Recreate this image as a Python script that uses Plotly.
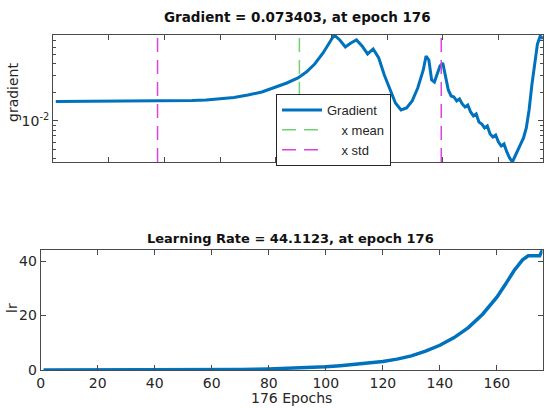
import numpy as np
import plotly.graph_objects as go

# ---------------- data ----------------
n_epochs = 176

grad_epoch = [1, 20, 40, 50, 55, 60, 65, 70, 75, 80, 84, 88, 91, 94, 97, 99,
              101, 103, 105, 107, 109, 111, 113, 115, 117, 119, 121, 123, 125, 127, 129, 131, 133,
              134, 135, 136, 137, 138, 139, 140, 141, 142, 143, 144, 145, 146, 147, 148, 149,
              150, 151, 152, 153, 154, 155, 156, 157, 158, 159, 160, 161, 162, 163, 164, 165,
              166, 167, 168, 169, 170, 171, 172, 173, 174, 175, 176]
grad_value = [0.01604, 0.01612, 0.01624, 0.01644, 0.01664, 0.01704, 0.01767, 0.01878, 0.02020, 0.02280,
              0.02512, 0.02836, 0.03280, 0.03981, 0.05197, 0.06464,
              0.08039, 0.07124, 0.06010, 0.06623, 0.07124, 0.06158, 0.05074, 0.05727, 0.04605, 0.03050,
              0.02120, 0.01547, 0.01306, 0.01370, 0.01624, 0.02225, 0.03442,
              0.04834, 0.04387, 0.02702, 0.02573, 0.03201, 0.03793, 0.04078, 0.02836, 0.02120, 0.01833,
              0.01789, 0.01624, 0.01704, 0.01510, 0.01404, 0.01474,
              0.01244, 0.01129, 0.01185, 0.00976, 0.00930, 0.00844, 0.00886, 0.00730, 0.00679, 0.00712,
              0.00601, 0.00546, 0.00573, 0.00472, 0.00408, 0.00370,
              0.00428, 0.00495, 0.00559, 0.00662, 0.00844, 0.01306, 0.02393, 0.04179, 0.06464, 0.07848,
              0.073403]

lr_epoch = [1, 10, 20, 30, 40, 50, 60, 70, 80, 90, 100, 105, 110, 115, 120, 125, 130, 135,
            140, 145, 150, 155, 160, 163, 166, 169, 171, 175, 176]
lr_value = [0.004, 0.007, 0.012, 0.02, 0.04, 0.07, 0.12, 0.22, 0.4, 0.7, 1.2, 1.6, 2.0, 2.5,
            3.1, 4.0, 5.2, 6.9, 9.1, 11.9, 15.6, 20.5, 26.8, 31.5, 36.5, 40.5, 42.0, 42.0, 44.1123]

x_ticks = [0, 20, 40, 60, 80, 100, 120, 140, 160]
lr_ticks = [0, 20, 40]
grad_major_ticks = [0.01]
grad_major_text = ["10<sup>-2</sup>"]
grad_minor_ticks = [0.004, 0.005, 0.006, 0.007, 0.008, 0.009,
                    0.02, 0.03, 0.04, 0.05, 0.06, 0.07, 0.08]

title_top = "Gradient = 0.073403, at epoch 176"
title_bottom = "Learning Rate = 44.1123, at epoch 176"

# ---------------- derived ----------------
epochs_all = np.arange(1, n_epochs + 1)
x_mean = float(epochs_all.mean())
x_std = float(epochs_all.std(ddof=1))
gmin, gmax = min(grad_value), max(grad_value)

W, H = 547, 408
def px(x):
    return x / W
def py(y):
    return 1 - y / H

BLUE = "#0072BD"
AX = "#4a4a4a"
TXT = "#262626"
FONT = "DejaVu Sans"
NB = "\u00a0" * 4

fig = go.Figure()
fig.add_trace(go.Scatter(x=grad_epoch, y=grad_value, mode="lines", name="Gradient",
                         line=dict(color=BLUE, width=3), xaxis="x", yaxis="y"))
fig.add_trace(go.Scatter(x=[x_mean, x_mean], y=[gmin, gmax], mode="lines",
                         name=NB + "x mean",
                         line=dict(color="#6fd36f", width=1.5, dash="14px,8px"),
                         xaxis="x", yaxis="y"))
fig.add_trace(go.Scatter(x=[x_mean - x_std, x_mean - x_std, None, x_mean + x_std, x_mean + x_std],
                         y=[gmin, gmax, None, gmin, gmax], mode="lines",
                         name=NB + "x std",
                         line=dict(color="#dd44dd", width=1.5, dash="14px,8px"),
                         xaxis="x", yaxis="y"))
fig.add_trace(go.Scatter(x=lr_epoch, y=lr_value, mode="lines", showlegend=False,
                         line=dict(color=BLUE, width=3.5), xaxis="x2", yaxis="y2"))

common = dict(showline=True, linecolor=AX, linewidth=1, mirror="allticks", ticks="inside",
              tickcolor=AX, ticklen=5, tickwidth=1, showgrid=False, zeroline=False,
              automargin=False,
              tickfont=dict(family=FONT, size=14, color=TXT))

fig.update_layout(
    template="none",
    width=W, height=H, margin=dict(l=0, r=0, t=0, b=0, autoexpand=False),
    paper_bgcolor="white", plot_bgcolor="white",
    xaxis=dict(domain=[px(53), px(543)], range=[0, n_epochs], tickmode="array",
               tickvals=x_ticks, showticklabels=False, anchor="y", **common),
    yaxis=dict(domain=[py(162), py(35)], type="log", range=[np.log10(gmin), np.log10(gmax)],
               tickmode="array", tickvals=grad_major_ticks, ticktext=grad_major_text,
               minor=dict(tickmode="array", tickvals=grad_minor_ticks, ticks="inside",
                          ticklen=3, tickcolor=AX),
               anchor="x", **common),
    xaxis2=dict(domain=[px(40.7), px(542.5)], range=[0, n_epochs], tickmode="array",
                tickvals=x_ticks, anchor="y2", **common),
    yaxis2=dict(domain=[py(370), py(250)], range=[0, max(lr_value)], tickmode="array",
                tickvals=lr_ticks, anchor="x2", **common),
    legend=dict(x=px(276), y=py(94), xanchor="left", yanchor="top", bgcolor="white",
                bordercolor=TXT, borderwidth=1, itemwidth=40,
                font=dict(family="Liberation Sans", size=13, color=TXT)),
    showlegend=True,
    annotations=[
        dict(text="<b>" + title_top + "</b>", x=px(298), y=py(17), xref="paper", yref="paper",
             showarrow=False, xanchor="center", yanchor="middle",
             font=dict(family=FONT, size=13.5, color="#111")),
        dict(text="<b>" + title_bottom + "</b>", x=px(290), y=py(238), xref="paper", yref="paper",
             showarrow=False, xanchor="center", yanchor="middle",
             font=dict(family=FONT, size=13, color="#111")),
        dict(text="gradient", x=px(13), y=py(93), xref="paper", yref="paper", textangle=-90,
             showarrow=False, xanchor="center", yanchor="middle",
             font=dict(family=FONT, size=14, color=TXT)),
        dict(text="lr", x=px(12), y=py(308), xref="paper", yref="paper", textangle=-90,
             showarrow=False, xanchor="center", yanchor="middle",
             font=dict(family=FONT, size=14, color=TXT)),
        dict(text="176 Epochs", x=px(291.6), y=py(398), xref="paper", yref="paper",
             showarrow=False, xanchor="center", yanchor="middle",
             font=dict(family=FONT, size=14, color=TXT)),
    ],
)

fig.write_html("out.html", config={"displayModeBar": False},
               post_script="document.body.style.margin='0px';document.body.style.overflow='hidden';")
